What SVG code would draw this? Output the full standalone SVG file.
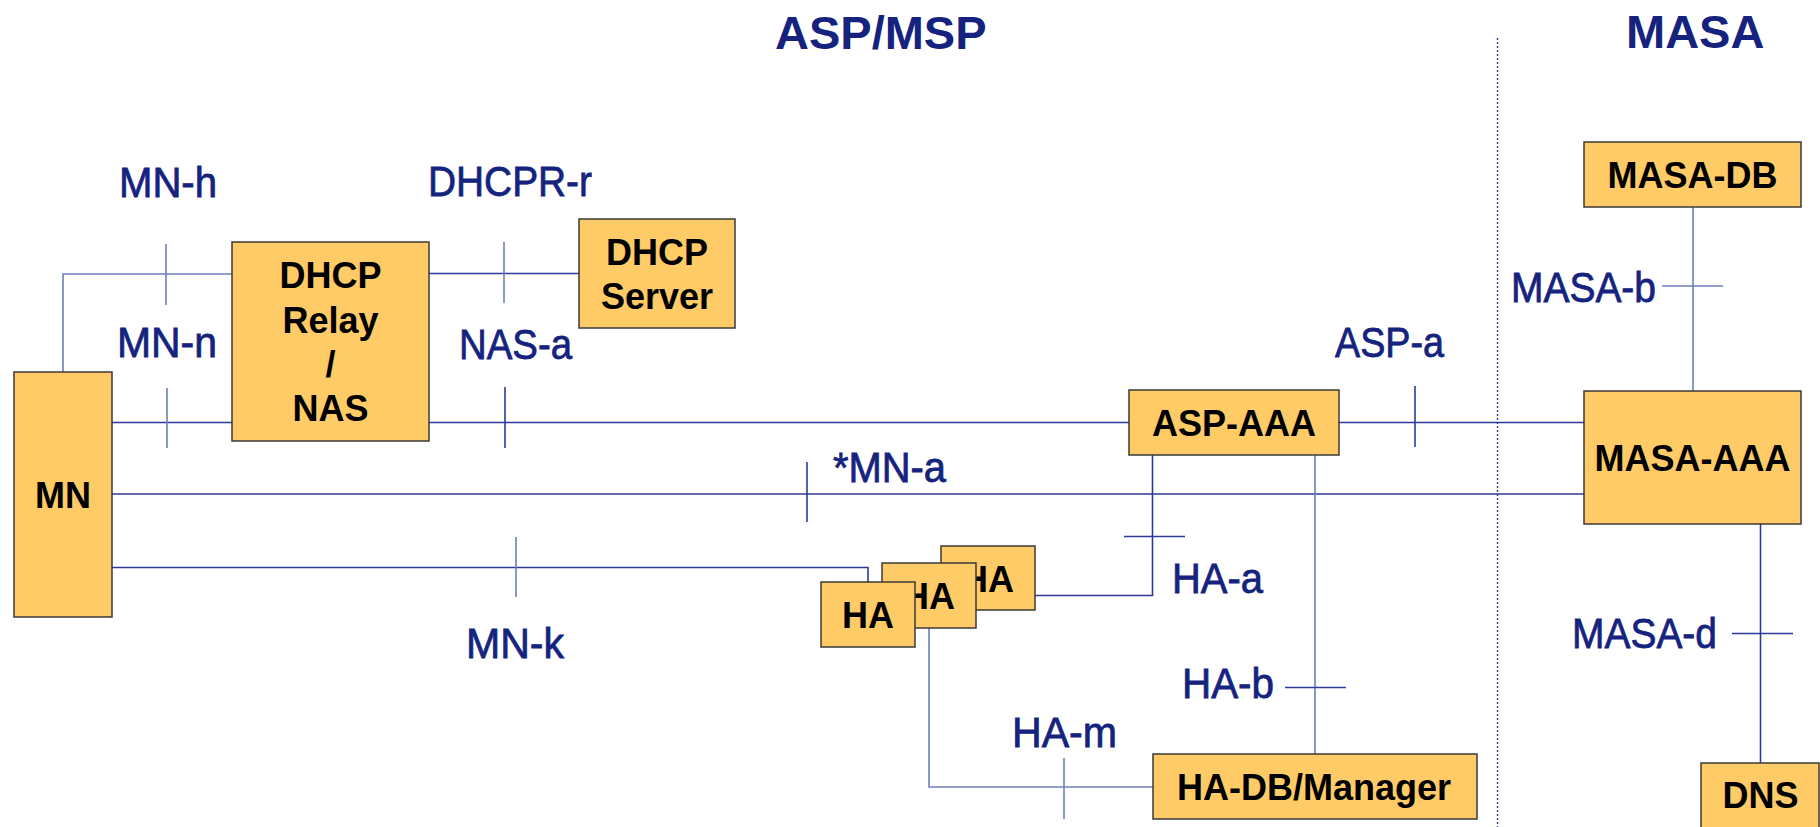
<svg xmlns="http://www.w3.org/2000/svg" width="1820" height="827" viewBox="0 0 1820 827">
<style>
.box{fill:#FECB66;stroke:#3a3a3a;stroke-width:1.5}
.bt{font-family:"Liberation Sans",Arial,sans-serif;font-weight:bold;font-size:36px;fill:#000;text-anchor:middle}
.lbl{font-family:"Liberation Sans",Arial,sans-serif;font-size:43px;fill:#15237F;stroke:#15237F;stroke-width:0.8}
.ttl{font-family:"Liberation Sans",Arial,sans-serif;font-weight:bold;font-size:47px;fill:#15237F}
.ln{fill:none;stroke:#2B3A96;stroke-width:1.6}
.lt{fill:none;stroke:#6F7FBA;stroke-width:1.6}
.dot{fill:none;stroke:#2B3A96;stroke-width:1.4;stroke-dasharray:2 2}
</style>
<rect width="1820" height="827" fill="#fff"/>
<g id="titles">
<text class="ttl" x="775" y="49">ASP/MSP</text>
<text class="ttl" x="1626" y="48">MASA</text>
</g>
<g id="connectors">
<line class="dot" x1="1497.5" y1="38" x2="1497.5" y2="827"/>
<path class="lt" d="M63,372 V274 H232"/>
<line class="lt" x1="166" y1="244" x2="166" y2="305"/>
<line class="ln" x1="112" y1="422.5" x2="232" y2="422.5"/>
<line class="lt" x1="167" y1="388" x2="167" y2="448"/>
<line class="ln" x1="429" y1="273.5" x2="579" y2="273.5"/>
<line class="lt" x1="504" y1="242" x2="504" y2="303"/>
<line class="ln" x1="429" y1="422.5" x2="1129" y2="422.5"/>
<line class="ln" x1="505" y1="387" x2="505" y2="448"/>
<line class="ln" x1="1339" y1="422.5" x2="1584" y2="422.5"/>
<line class="ln" x1="1415" y1="386" x2="1415" y2="447"/>
<line class="ln" x1="112" y1="494" x2="1584" y2="494"/>
<line class="ln" x1="807" y1="462" x2="807" y2="522"/>
<path class="ln" d="M112,567.5 H868 V582"/>
<line class="lt" x1="516" y1="537" x2="516" y2="597"/>
<path class="ln" d="M1152.5,455 V595.5 H1035"/>
<line class="ln" x1="1124" y1="536.5" x2="1185" y2="536.5"/>
<line class="lt" x1="1315" y1="455" x2="1315" y2="754"/>
<line class="ln" x1="1285" y1="687.5" x2="1346" y2="687.5"/>
<path class="lt" d="M929,628 V787 H1153"/>
<line class="lt" x1="1064" y1="758" x2="1064" y2="819"/>
<line class="lt" x1="1693" y1="207" x2="1693" y2="391"/>
<line class="lt" x1="1662" y1="286" x2="1723" y2="286"/>
<line class="ln" x1="1760.5" y1="524" x2="1760.5" y2="763"/>
<line class="ln" x1="1732" y1="633.5" x2="1793" y2="633.5"/>
</g>
<g id="labels">
<text class="lbl" x="119" y="197" textLength="98" lengthAdjust="spacingAndGlyphs">MN-h</text>
<text class="lbl" x="428" y="196" textLength="164" lengthAdjust="spacingAndGlyphs">DHCPR-r</text>
<text class="lbl" x="117" y="357" textLength="100" lengthAdjust="spacingAndGlyphs">MN-n</text>
<text class="lbl" x="459" y="359" textLength="113" lengthAdjust="spacingAndGlyphs">NAS-a</text>
<text class="lbl" x="833" y="482" textLength="113" lengthAdjust="spacingAndGlyphs">*MN-a</text>
<text class="lbl" x="466" y="658" textLength="98" lengthAdjust="spacingAndGlyphs">MN-k</text>
<text class="lbl" x="1335" y="357" textLength="109" lengthAdjust="spacingAndGlyphs">ASP-a</text>
<text class="lbl" x="1172" y="593" textLength="91" lengthAdjust="spacingAndGlyphs">HA-a</text>
<text class="lbl" x="1182" y="698" textLength="92" lengthAdjust="spacingAndGlyphs">HA-b</text>
<text class="lbl" x="1012" y="747" textLength="105" lengthAdjust="spacingAndGlyphs">HA-m</text>
<text class="lbl" x="1511" y="302" textLength="145" lengthAdjust="spacingAndGlyphs">MASA-b</text>
<text class="lbl" x="1572" y="648" textLength="145" lengthAdjust="spacingAndGlyphs">MASA-d</text>
</g>
<g id="node-mn">
<rect class="box" x="14" y="372" width="98" height="245"/>
<text class="bt" x="63" y="508">MN</text>
</g>
<g id="node-dhcp-relay">
<rect class="box" x="232" y="242" width="197" height="199"/>
<text class="bt" x="330.5" y="288">DHCP</text>
<text class="bt" x="330.5" y="333">Relay</text>
<text class="bt" x="330.5" y="377">/</text>
<text class="bt" x="330.5" y="421">NAS</text>
</g>
<g id="node-dhcp-server">
<rect class="box" x="579" y="219" width="156" height="109"/>
<text class="bt" x="657" y="265">DHCP</text>
<text class="bt" x="657" y="309">Server</text>
</g>
<g id="node-asp-aaa">
<rect class="box" x="1129" y="390" width="210" height="65"/>
<text class="bt" x="1234" y="436">ASP-AAA</text>
</g>
<g id="node-ha-3">
<rect class="box" x="941" y="546" width="94" height="64"/>
<text class="bt" x="988" y="592">HA</text>
</g>
<g id="node-ha-2">
<rect class="box" x="882" y="563" width="94" height="65"/>
<text class="bt" x="929" y="609">HA</text>
</g>
<g id="node-ha-1">
<rect class="box" x="821" y="582" width="94" height="65"/>
<text class="bt" x="868" y="628">HA</text>
</g>
<g id="node-ha-db">
<rect class="box" x="1153" y="754" width="324" height="65"/>
<text class="bt" x="1314" y="800">HA-DB/Manager</text>
</g>
<g id="node-masa-db">
<rect class="box" x="1584" y="142" width="217" height="65"/>
<text class="bt" x="1692.5" y="188">MASA-DB</text>
</g>
<g id="node-masa-aaa">
<rect class="box" x="1584" y="391" width="217" height="133"/>
<text class="bt" x="1692.5" y="471">MASA-AAA</text>
</g>
<g id="node-dns">
<rect class="box" x="1701" y="763" width="118" height="70"/>
<text class="bt" x="1760.5" y="808">DNS</text>
</g>
</svg>
